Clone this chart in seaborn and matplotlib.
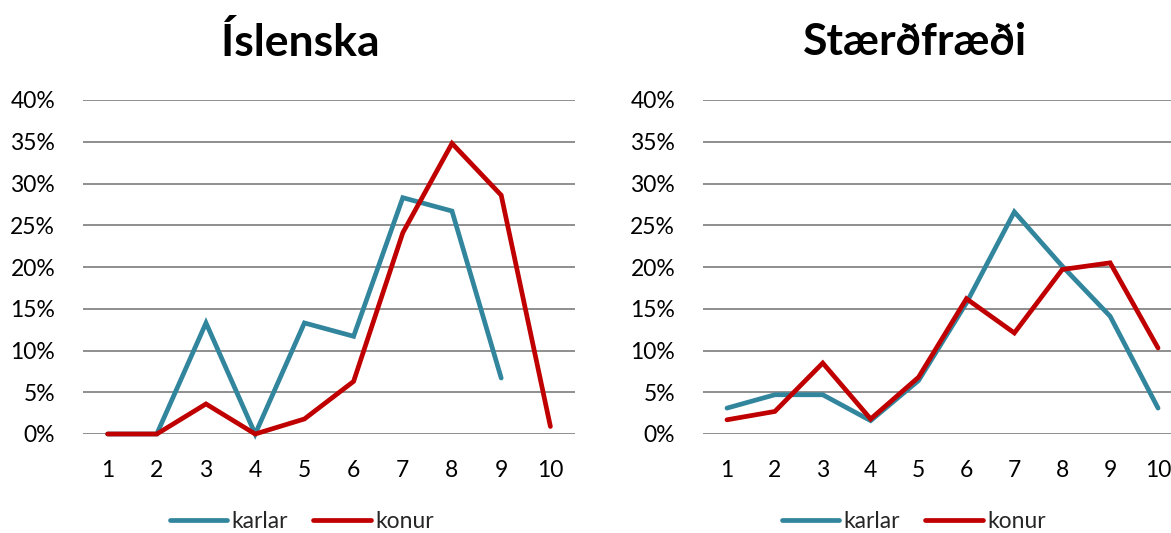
import numpy as np
import pandas as pd
import matplotlib
matplotlib.use("Agg")
import matplotlib.pyplot as plt
import seaborn as sns
from matplotlib.ticker import PercentFormatter

categories = [1, 2, 3, 4, 5, 6, 7, 8, 9, 10]
isl_karlar = [0.0, 0.0, 13.3, 0.0, 13.3, 11.7, 28.3, 26.7, 6.7, np.nan]
isl_konur = [0.0, 0.0, 3.6, 0.0, 1.8, 6.3, 24.1, 34.8, 28.6, 0.9]
stf_karlar = [3.1, 4.7, 4.7, 1.6, 6.4, 15.7, 26.6, 20.1, 14.1, 3.1]
stf_konur = [1.7, 2.7, 8.5, 1.8, 6.8, 16.2, 12.1, 19.7, 20.5, 10.3]
titles = ["Íslenska", "Stærðfræði"]
series_names = ["karlar", "konur"]
yticks = [0, 5, 10, 15, 20, 25, 30, 35, 40]

sns.set_theme(style="white")
plt.rcParams['font.family'] = ['Lato', 'DejaVu Sans']

palette = {"karlar": "#31859C", "konur": "#C00000"}

fig = plt.figure(figsize=(11.71, 5.33), dpi=100)
axes_pos = [
    [83 / 1171, 99 / 533, 492 / 1171, 334 / 533],
    [703 / 1171, 99 / 533, 479 / 1171, 334 / 533],
]
title_x = [300 / 1171, 915 / 1171]
data_sets = [(isl_karlar, isl_konur), (stf_karlar, stf_konur)]
legend_x = [0.445, 0.44]

for i in range(2):
    k, w = data_sets[i]
    df = pd.DataFrame({
        "x": categories * 2,
        "y": list(k) + list(w),
        "kyn": [series_names[0]] * len(categories) + [series_names[1]] * len(categories),
    })
    ax = fig.add_axes(axes_pos[i])
    sns.lineplot(data=df, x="x", y="y", hue="kyn", palette=palette, ax=ax,
                 linewidth=3.4, legend=True)
    for ln in ax.lines:
        ln.set_clip_on(False)
        ln.set_solid_capstyle("round")
        ln.set_solid_joinstyle("miter")
    ax.set_xlim(0.5, 10.5)
    ax.set_ylim(0, 40)
    ax.set_yticks(yticks)
    ax.yaxis.set_major_formatter(PercentFormatter(decimals=0))
    ax.set_xticks(categories)
    ax.set_xticklabels([str(c) for c in categories])
    ax.grid(axis="y", color="#868686", linewidth=1.3)
    ax.set_axisbelow(True)
    for s in ax.spines.values():
        s.set_visible(False)
    ax.tick_params(axis="y", length=0, pad=20, labelsize=16.5, labelcolor="#000000")
    ax.tick_params(axis="x", length=0, pad=19, labelsize=16.5, labelcolor="#000000")
    ax.set_xlabel("")
    ax.set_ylabel("")
    handles, labels = ax.get_legend_handles_labels()
    ax.legend(handles=handles, labels=labels, loc="center", bbox_to_anchor=(legend_x[i], -0.262),
              ncol=2, frameon=False, fontsize=16.5, handlelength=2.5, handletextpad=0.2,
              columnspacing=1.1, borderaxespad=0, borderpad=0.2)
    for lh in ax.get_legend().get_lines():
        lh.set_linewidth(3.4)
        lh.set_solid_capstyle("round")
    fig.text(title_x[i], 1 - 42 / 533, titles[i], ha="center", va="center",
             fontsize=32, fontweight="bold", color="#000000")

fig.savefig("out.png", dpi=100)
